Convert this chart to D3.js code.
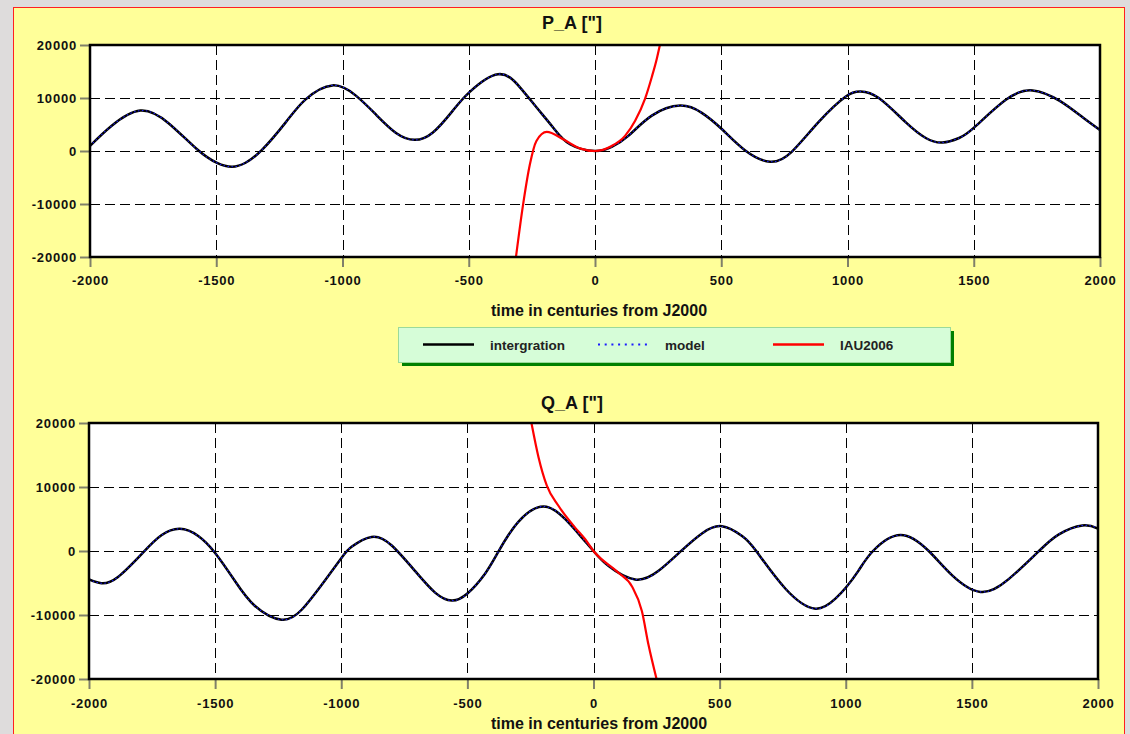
<!DOCTYPE html>
<html>
<head>
<meta charset="utf-8">
<script src="https://cdn.jsdelivr.net/npm/d3@7"></script>
<style>
  body { margin: 0; background: #dedcdc; }
  svg { display: block; font-family: 'Liberation Sans', Arial, sans-serif; font-weight: bold; }
</style>
</head>
<body>
<svg id="chart" width="1130" height="734"></svg>
<script>
// values: [century from J2000, arcsec]
const pInteg = [
  [-2000, 950], [-1914, 4760], [-1801, 7620], [-1689, 5250], [-1576, 320], [-1497, -2250],
  [-1437, -2980], [-1384, -2220], [-1318, 250], [-1225, 5400], [-1146, 9750], [-1040, 12380],
  [-947, 10450], [-868, 6900], [-788, 3400], [-715, 2100], [-642, 3490], [-563, 7620],
  [-497, 11110], [-384, 14480], [-298, 12060], [-232, 8250], [-166, 4440], [-99, 1270],
  [0, 0], [66, 760], [132, 2860], [225, 6670], [337, 8570], [423, 7200], [503, 4100],
  [595, 100], [694, -2030], [780, -100], [886, 5500], [992, 10250], [1052, 11240], [1124, 10000],
  [1230, 5450], [1310, 2450], [1376, 1590], [1442, 2450], [1501, 4400], [1627, 9650],
  [1733, 11430], [1839, 9500], [1931, 6350], [2000, 3940]
]
const pModel = pInteg.slice() // model lies on top of the integration
const pIau = [
  [-313, -20000], [-285, -10160], [-258, -2540], [-232, 1900], [-191, 3600], [-126, 2220],
  [-60, 500], [0, 0], [66, 950], [119, 2860], [159, 5710], [198, 9840], [225, 13970],
  [245, 17460], [257, 20000]
]

const qInteg = [
  [-2000, -4450], [-1951, -5030], [-1885, -4050], [-1786, -250], [-1713, 2450], [-1640, 3460],
  [-1567, 2350], [-1500, -300], [-1422, -4650], [-1343, -8550], [-1237, -10730], [-1157, -9180],
  [-1078, -5300], [-1000, -1150], [-959, 650], [-880, 2200], [-801, 900], [-708, -3100],
  [-628, -6500], [-562, -7750], [-500, -6650], [-430, -3550], [-377, -100], [-298, 4550],
  [-198, 6960], [-112, 4970], [-46, 2090], [0, 0], [60, -2360], [165, -4450], [258, -3100],
  [350, 100], [430, 2750], [509, 3870], [589, 2350], [645, 0], [761, -5900], [880, -9010],
  [959, -7450], [1000, -5750], [1050, -3100], [1108, 0], [1217, 2510], [1329, 0], [1422, -3800],
  [1534, -6390], [1647, -4350], [1766, 0], [1845, 2600], [1938, 3980], [2000, 3510]
]
const qModel = qInteg.slice()
const qIau = [
  [-246, 20000], [-218, 14660], [-185, 10210], [-139, 7070], [-73, 3660], [-33, 1830],
  [0, 0], [99, -3400], [152, -5500], [192, -9420], [218, -14660], [250, -20000]
]

const xTicks = [-2000, -1500, -1000, -500, 0, 500, 1000, 1500, 2000]
const yTicks = [-20000, -10000, 0, 10000, 20000]
const legendNames = ['intergration', 'model', 'IAU2006']
const xTitle = 'time in centuries from J2000'

const svg = d3.select('#chart')

// yellow sheet
svg.append('rect')
  .attr('x', 13.5).attr('y', 7.5)
  .attr('width', 1111).attr('height', 760)
  .attr('fill', '#ffff99')
  .attr('stroke', '#ff2020')
  .attr('stroke-width', 1)

const panels = [
  { id: 'p', title: 'P_A ["]', integ: pInteg, model: pModel, iau: pIau, left: 90, right: 1100, top: 45, bottom: 257, titleY: 29, labelY: 28, xTitleY: 316 },
  { id: 'q', title: 'Q_A ["]', integ: qInteg, model: qModel, iau: qIau, left: 89, right: 1098, top: 423, bottom: 679, titleY: 409, labelY: 29, xTitleY: 729 }
]

const drawPanel = (p) => {
  const x = d3.scaleLinear().domain([-2000, 2000]).range([p.left, p.right])
  const y = d3.scaleLinear().domain([-20000, 20000]).range([p.bottom, p.top])
  const g = svg.append('g')

  g.append('rect')
    .attr('x', p.left).attr('y', p.top)
    .attr('width', p.right - p.left).attr('height', p.bottom - p.top)
    .attr('fill', '#fff')

  g.append('clipPath').attr('id', 'clip-' + p.id)
    .append('rect')
    .attr('x', p.left).attr('y', p.top)
    .attr('width', p.right - p.left).attr('height', p.bottom - p.top)

  // dashed grid
  g.selectAll('.gx')
    .data(xTicks.slice(1, -1))
    .join('line')
    .attr('x1', d => Math.round(x(d)) + 0.5).attr('x2', d => Math.round(x(d)) + 0.5)
    .attr('y1', p.top).attr('y2', p.bottom)
    .attr('stroke', '#000').attr('stroke-width', 1)
    .attr('stroke-dasharray', '10,5')
  g.selectAll('.gy')
    .data(yTicks.slice(1, -1))
    .join('line')
    .attr('y1', d => Math.round(y(d)) + 0.5).attr('y2', d => Math.round(y(d)) + 0.5)
    .attr('x1', p.left).attr('x2', p.right)
    .attr('stroke', '#000').attr('stroke-width', 1)
    .attr('stroke-dasharray', '10,5')

  // axes
  const xa = g.append('g')
    .attr('transform', `translate(0,${p.bottom})`)
    .call(d3.axisBottom(x).tickValues(xTicks).tickSize(10).tickFormat(d => String(d)))
  const ya = g.append('g')
    .attr('transform', `translate(${p.left},0)`)
    .call(d3.axisLeft(y).tickValues(yTicks).tickSize(10).tickFormat(d => String(d)))
  ;[xa, ya].forEach(a => {
    a.select('.domain').remove()
    a.attr('font-family', null).attr('font-size', null)
    a.selectAll('line').attr('stroke', '#80806a').attr('stroke-width', 2)
    a.selectAll('text')
      .attr('fill', '#111')
      .style('font-size', '13px')
      .style('letter-spacing', '0.8px')
  })
  xa.selectAll('text').attr('y', p.labelY).attr('dy', 0)
  ya.selectAll('text').attr('x', -13).attr('dy', '0.36em')

  const smooth = d3.line()
    .x(d => x(d[0]))
    .y(d => y(d[1]))
    .curve(d3.curveNatural)
  const steep = d3.line()
    .x(d => x(d[0]))
    .y(d => y(d[1]))
    .curve(d3.curveMonotoneX)

  const curves = g.append('g').attr('clip-path', `url(#clip-${p.id})`)
  curves.append('path')
    .datum(p.integ)
    .attr('d', smooth)
    .attr('fill', 'none')
    .attr('stroke', '#000')
    .attr('stroke-width', 2.5)
  curves.append('path')
    .datum(p.model)
    .attr('d', smooth)
    .attr('fill', 'none')
    .attr('stroke', '#1a1aff')
    .attr('stroke-width', 1.1)
    .attr('stroke-dasharray', '1.5,2.5')
  curves.append('path')
    .datum(p.iau)
    .attr('d', steep)
    .attr('fill', 'none')
    .attr('stroke', '#ff0000')
    .attr('stroke-width', 2.2)

  // frame
  g.append('rect')
    .attr('x', p.left).attr('y', p.top)
    .attr('width', p.right - p.left).attr('height', p.bottom - p.top)
    .attr('fill', 'none')
    .attr('stroke', '#000')
    .attr('stroke-width', 2.5)

  g.append('text')
    .attr('x', 572).attr('y', p.titleY)
    .attr('text-anchor', 'middle')
    .style('font-size', '18px')
    .attr('fill', '#111')
    .text(p.title)

  g.append('text')
    .attr('x', 599).attr('y', p.xTitleY)
    .attr('text-anchor', 'middle')
    .style('font-size', '16px')
    .attr('fill', '#111')
    .text(xTitle)
}

panels.forEach(drawPanel)

// legend
const legend = svg.append('g')
legend.append('rect')
  .attr('x', 402).attr('y', 331).attr('width', 552).attr('height', 35)
  .attr('fill', '#008000')
legend.append('rect')
  .attr('x', 398.5).attr('y', 327.5).attr('width', 552).attr('height', 35)
  .attr('fill', '#d6fdd8')
  .attr('stroke', '#9ada9a')
  .attr('stroke-width', 1)

const legendStyle = [
  { color: '#000', width: 2.6, dash: null },
  { color: '#1a1aff', width: 2, dash: '2,4.7' },
  { color: '#ff0000', width: 2.6, dash: null }
]
const item = legend.selectAll('.item')
  .data(legendNames)
  .join('g')
  .attr('transform', (d, i) => `translate(${423 + i * 175},344.5)`)
item.append('line')
  .attr('x1', 0).attr('x2', 51)
  .attr('stroke', (d, i) => legendStyle[i].color)
  .attr('stroke-width', (d, i) => legendStyle[i].width)
  .attr('stroke-dasharray', (d, i) => legendStyle[i].dash)
item.append('text')
  .attr('x', 67).attr('y', 5)
  .style('font-size', '13.5px')
  .attr('fill', '#222')
  .text(d => d)
</script>
</body>
</html>
